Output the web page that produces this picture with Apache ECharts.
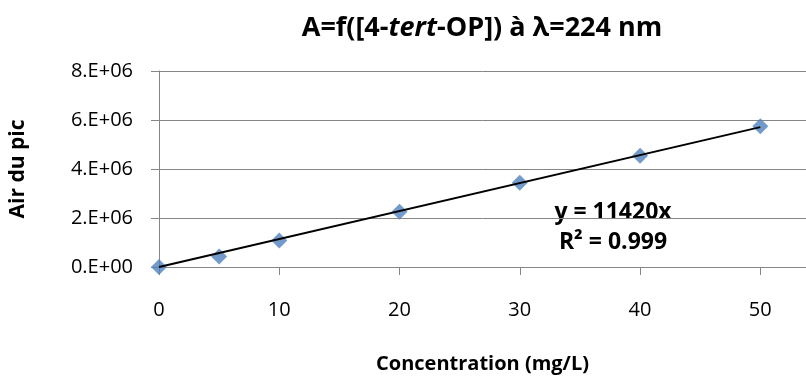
<!DOCTYPE html>
<html>
<head>
<meta charset="utf-8">
<script src="https://cdn.jsdelivr.net/npm/echarts@6/dist/echarts.min.js"></script>
<style>
  html, body { margin: 0; padding: 0; background: #fff; }
  #chart { width: 806px; height: 379px; }
</style>
</head>
<body>
<div id="chart"></div>
<script>
// concentrations (mg/L) and peak areas
const concentrations = [0, 5, 10, 20, 30, 40, 50];
const peakAreas = [0, 0.43e6, 1.08e6, 2.26e6, 3.44e6, 4.54e6, 5.74e6];
// linear trend y = 11420x drawn between these ends
const trendX = [0, 50];
const trendY = [0, 5.71e6];
const xTicks = [0, 10, 20, 30, 40, 50];
const equationLines = ['y = 11420x', 'R² = 0.999'];

const FONT = '"Open Sans", "Noto Sans", sans-serif';
const GREY = '#868686';

function sciLabel(v) {
  if (v === 0) return '0.E+00';
  const e = Math.floor(Math.log10(v));
  const m = Math.round(v / Math.pow(10, e));
  return m + '.E+' + String(e).padStart(2, '0');
}

const chart = echarts.init(document.getElementById('chart'), null, { renderer: 'canvas' });

chart.setOption({
  backgroundColor: '#ffffff',
  animation: false,
  title: {
    text: 'A=f([4-{i|tert}-OP]) à λ=224 nm',
    left: 477,
    top: 10,
    textAlign: 'center',
    textStyle: {
      fontFamily: FONT,
      fontSize: 27,
      fontWeight: 'bold',
      color: '#000',
      rich: {
        i: { fontFamily: FONT, fontSize: 27, fontWeight: 'bold', fontStyle: 'italic', color: '#000' },
      },
    },
  },
  grid: { left: 158, right: 0, top: 71, bottom: 106, containLabel: false },
  xAxis: {
    type: 'value',
    min: 0,
    max: 53.8,
    name: 'Concentration (mg/L)',
    nameLocation: 'middle',
    nameGap: 87,
    nameTextStyle: { fontFamily: FONT, fontSize: 20, fontWeight: 'bold', color: '#000' },
    axisLine: { show: true, lineStyle: { color: GREY, width: 1 } },
    axisTick: { show: true, length: 8, lineStyle: { color: GREY }, customValues: xTicks },
    axisLabel: { margin: 33, fontFamily: FONT, fontSize: 20, color: '#000', customValues: xTicks },
    splitLine: { show: false },
  },
  yAxis: {
    type: 'value',
    min: 0,
    max: 8e6,
    interval: 2e6,
    name: 'Air du pic',
    nameLocation: 'middle',
    nameGap: 130,
    nameRotate: 90,
    nameTextStyle: { fontFamily: FONT, fontSize: 21, fontWeight: 'bold', color: '#000' },
    axisLine: { show: true, lineStyle: { color: GREY, width: 1 } },
    axisTick: { show: true, length: 8, lineStyle: { color: GREY } },
    axisLabel: { margin: 26, fontFamily: FONT, fontSize: 20, color: '#000', formatter: sciLabel },
    splitLine: { show: true, lineStyle: { color: GREY, width: 1 } },
  },
  series: [
    {
      type: 'line',
      data: trendX.map((x, i) => [x, trendY[i]]),
      showSymbol: false,
      lineStyle: { color: '#000', width: 2 },
      z: 3,
      silent: true,
    },
    {
      type: 'scatter',
      data: concentrations.map((x, i) => [x, peakAreas[i]]),
      symbol: 'diamond',
      symbolSize: 16,
      itemStyle: { color: '#4F81BD' },
      z: 2,
    },
  ],
  graphic: [
    {
      type: 'text',
      x: 613,
      y: 227,
      style: {
        text: equationLines.join('\n'),
        fontFamily: FONT,
        fontSize: 23,
        fontWeight: 'bold',
        fill: '#000',
        align: 'center',
        verticalAlign: 'middle',
        lineHeight: 30,
      },
    },
  ],
});
</script>
</body>
</html>
